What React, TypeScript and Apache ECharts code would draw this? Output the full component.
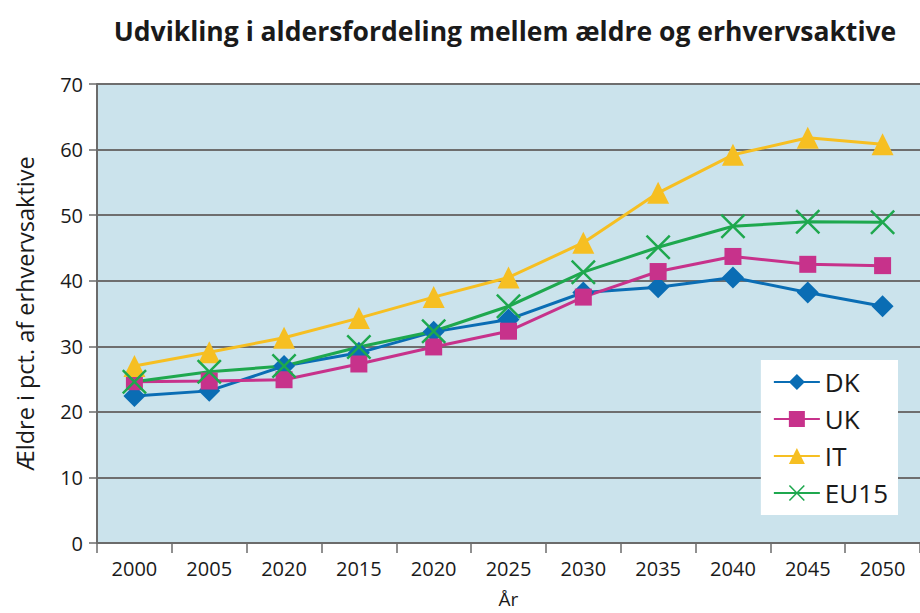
import React, { useEffect, useRef } from "react";
import * as echarts from "echarts";

const categories = ["2000", "2005", "2020", "2015", "2020", "2025", "2030", "2035", "2040", "2045", "2050"];
const dk = [22.4, 23.2, 27.0, 29.0, 32.2, 34.1, 38.2, 39.0, 40.5, 38.2, 36.1];
const uk = [24.6, 24.7, 24.9, 27.3, 29.9, 32.3, 37.5, 41.4, 43.7, 42.5, 42.3];
const it = [27.0, 29.1, 31.3, 34.3, 37.5, 40.5, 45.8, 53.4, 59.2, 61.8, 60.8];
const eu15 = [24.6, 26.1, 27.0, 29.9, 32.3, 36.1, 41.3, 45.1, 48.3, 49.0, 48.9];
const yTicks = { min: 0, max: 70, interval: 10 };

const FONT = "'Open Sans', 'DejaVu Sans', sans-serif";
const XPATH =
  "path://M0,7L7,0L50,43L93,0L100,7L57,50L100,93L93,100L50,57L7,100L0,93L43,50Z";

export default function App() {
  const ref = useRef<HTMLDivElement>(null);
  useEffect(() => {
    if (!ref.current) return;
    const chart = echarts.init(ref.current, null, { renderer: "svg" });
    const mk = (name: string, data: number[], color: string, symbol: string, size: number) => ({
      name,
      type: "line",
      data,
      symbol,
      symbolSize: size,
      showAllSymbol: true,
      lineStyle: { color, width: 3 },
      itemStyle: { color, borderWidth: 0 },
      z: 3,
    });
    chart.setOption({
      animation: false,
      backgroundColor: "#ffffff",
      title: {
        text: "Udvikling i aldersfordeling mellem ældre og erhvervsaktive",
        left: 500,
        textAlign: "center",
        top: 12,
        textStyle: { fontFamily: FONT, fontWeight: "bold", fontSize: 26.5, color: "#1a1a1a" },
      },
      grid: { left: 97, right: -1, top: 84, bottom: 68, show: true, backgroundColor: "#cbe3ec", borderWidth: 0 },
      legend: {
        orient: "vertical",
        right: 22,
        top: 360,
        backgroundColor: "#ffffff",
        padding: [9, 10, 9, 12],
        itemGap: 11,
        itemWidth: 46,
        itemHeight: 20,
        textStyle: { fontFamily: FONT, fontSize: 26, color: "#1a1a1a" },
        data: ["DK", "UK", "IT", "EU15"],
      },
      xAxis: {
        type: "category",
        data: categories,
        boundaryGap: true,
        name: "År",
        nameLocation: "middle",
        nameGap: 46,
        nameTextStyle: { fontFamily: FONT, fontSize: 19, color: "#1a1a1a" },
        axisLine: { lineStyle: { color: "#6b6b6b", width: 2 } },
        axisTick: { show: true, length: 10, alignWithLabel: false, lineStyle: { color: "#6b6b6b", width: 1.5 } },
        axisLabel: { fontFamily: FONT, fontSize: 20, color: "#1a1a1a", margin: 15, interval: 0 },
        splitLine: { show: false },
      },
      yAxis: {
        type: "value",
        min: yTicks.min,
        max: yTicks.max,
        interval: yTicks.interval,
        name: "Ældre i pct. af erhvervsaktive",
        nameLocation: "middle",
        nameGap: 60,
        nameTextStyle: { fontFamily: FONT, fontSize: 23.5, color: "#1a1a1a" },
        axisLine: { show: true, lineStyle: { color: "#6b6b6b", width: 2 } },
        axisTick: { show: true, length: 8, lineStyle: { color: "#6b6b6b", width: 1.5 } },
        axisLabel: { fontFamily: FONT, fontSize: 20, color: "#1a1a1a", margin: 14 },
        splitLine: { show: true, lineStyle: { color: "#6e6e6e", width: 2 } },
      },
      series: [
        mk("DK", dk, "#0a6db4", "diamond", 22),
        mk("UK", uk, "#c7328b", "rect", 17),
        mk("IT", it, "#f6bf22", "triangle", 22),
        mk("EU15", eu15, "#1ea84e", XPATH, 25),
      ],
    });
    return () => chart.dispose();
  }, []);
  return <div ref={ref} style={{ position: "fixed", left: 0, top: 0, width: 920, height: 613 }} />;
}
